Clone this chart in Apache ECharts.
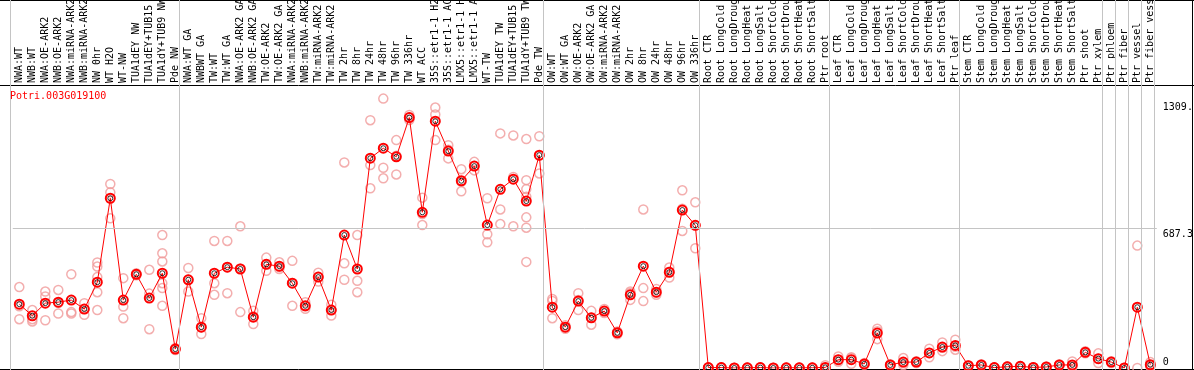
<!DOCTYPE html>
<html><head><meta charset="utf-8">
<script src="https://cdn.jsdelivr.net/npm/echarts@6/dist/echarts.min.js"></script>
<style>html,body{margin:0;padding:0;background:#fff}#c{width:1194px;height:370px}</style>
</head><body><div id="c"></div>
<script>
const title = 'Potri.003G019100';
const categories = [
  'NWA:WT','NWB:WT','NWA:OE-ARK2','NWB:OE-ARK2','NWA:miRNA-ARK2','NWB:miRNA-ARK2','NW 0hr','WT H2O','WT-NW','TUA1dEY NW','TUA1dEY+TUB15 NW','TUA1dY+TUB9 NW','Pde NW',
  'NWA:WT GA','NWBWT GA','TW:WT','TW:WT GA','NWA:OE-ARK2 GA','NWB:OE-ARK2 GA','TW:OE-ARK2','TW:OE-ARK2 GA','NWA:miRNA-ARK2 GA','NWB:miRNA-ARK2 GA','TW:miRNA-ARK2','TW:miRNA-ARK2 GA','TW 2hr','TW 8hr','TW 24hr','TW 48hr','TW 96hr','TW 336hr','WT ACC','35S::etr1-1 H2O','35S::etr1-1 ACC','LMX5::etr1-1 H2O','LMX5::etr1-1 ACC','WT-TW','TUA1dEY TW','TUA1dEY+TUB15 TW','TUA1dY+TUB9 TW','Pde TW',
  'OW:WT','OW:WT GA','OW:OE-ARK2','OW:OE-ARK2 GA','OW:miRNA-ARK2','OW:miRNA-ARK2 GA','OW 2hr','OW 8hr','OW 24hr','OW 48hr','OW 96hr','OW 336hr',
  'Root CTR','Root LongCold','Root LongDrought','Root LongHeat','Root LongSalt','Root ShortCold','Root ShortDrought','Root ShortHeat','Root ShortSalt','Ptr root',
  'Leaf CTR','Leaf LongCold','Leaf LongDrought','Leaf LongHeat','Leaf LongSalt','Leaf ShortCold','Leaf ShortDrought','Leaf ShortHeat','Leaf ShortSalt','Ptr leaf',
  'Stem CTR','Stem LongCold','Stem LongDrought','Stem LongHeat','Stem LongSalt','Stem ShortCold','Stem ShortDrought','Stem ShortHeat','Stem ShortSalt','Ptr shoot','Ptr xylem',
  'Ptr phloem','Ptr fiber','Ptr vessel','Ptr fiber vessel'
];
const groupSizes = [13, 28, 12, 10, 10, 11, 1, 1, 1, 1];
const means = [
  314,257,319,324,334,290,422,835,334,461,344,466,93,
  434,201,466,496,487,250,510,501,417,306,447,285,654,487,1032,1081,1039,1232,766,1214,1067,921,993,703,879,929,821,1047,
  299,201,329,247,280,173,360,501,373,471,777,702,
  2,2,0,1,2,0,1,1,1,3,
  41,41,20,172,15,29,29,74,103,111,
  11,15,2,6,8,3,5,15,15,77,46,
  29,0,299,16
];
const replicates = [
  [398,304,240],[285,240,229],[376,352,235],[384,320,268],[461,275,268],[319,290,262],[519,499,447,373,285],[905,864,736],[442,302,245],[466,461,456],[483,366,191],[654,564,524,417,393,306],[98,93,88],
  [492,434,376],[245,201,167],[625,417,360],[625,496,368],[697,489,275],[281,253,216],[543,510,478],[520,496,487],[527,418,306],[324,303,291],[469,447,425],[311,285,258],[1011,515,434],[654,429,373],[1219,998,884],[1325,985,933],[1121,1044,952],[1245,1232,1220],[838,757,703],[1281,1247,1121],[1096,1074,1031],[978,916,869],[1014,993,972],[835,658,618],[1154,780,708],[1144,940,697],[1126,924,880,842,741,690,522],[1140,1044,957],
  [340,330,245],[210,201,193],[368,334,285],[281,247,213],[290,280,270],[180,173,166],[376,369,335],[780,393,329],[389,370,360],[494,474,445],[874,783,674],[815,702,589],
  [3,2,1],[4,2,1],[1,0,0],[2,1,0],[3,2,1],[1,0,0],[2,1,0],[2,1,0],[2,1,0],[14,2,0],
  [57,41,31],[53,49,21],[24,20,16],[193,181,142],[18,15,12],[49,24,14],[33,29,25],[95,74,53],[126,100,83],[139,104,90],
  [14,11,8],[18,15,12],[3,2,1],[8,6,4],[10,8,6],[4,3,2],[7,5,3],[18,15,12],[32,8,5],[82,77,72],[72,45,24],
  [33,29,25],[1,0,0],[602,0],[29,12,7]
];
const yTicks = [0, 687.3, 1309.2];
const gridValues = [687.3];

const W = 1194, H = 370;
const PLOT_LEFT = 12.8, BAND = 13, PLOT_TOP = 85, PLOT_BOTTOM = 368;
const YMAX = 1392;
const LINE_SHIFT = -0.18;
const N = categories.length;
const XMIN = -0.5 - PLOT_LEFT / BAND;
const XMAX = XMIN + W / BAND;

const boundaries = [-0.5];
let acc = -0.5;
groupSizes.forEach(s => { acc += s; boundaries.push(acc); });

const repData = [];
replicates.forEach((r, i) => r.forEach(v => repData.push([i, v])));
const meanPts = means.map((v, i) => [i, v]);

const MONO = '"DejaVu Sans Mono", "Liberation Mono", monospace';
const chart = echarts.init(document.getElementById('c'), null, {renderer: 'canvas'});
chart.setOption({
  animation: false,
  backgroundColor: '#fff',
  title: {text: title, left: 10, top: 91, padding: 0,
    textStyle: {color: '#ff0000', fontSize: 10, fontFamily: MONO, fontWeight: 'normal'}},
  grid: [
    {left: PLOT_LEFT, top: PLOT_TOP, width: N * BAND, height: PLOT_BOTTOM - PLOT_TOP,
     containLabel: false, outerBoundsMode: 'none'},
    {left: 0, top: 0, width: W, height: H, containLabel: false, outerBoundsMode: 'none'}
  ],
  xAxis: [
    {type: 'category', gridIndex: 0, data: categories, position: 'top', boundaryGap: true,
     axisLine: {show: false}, axisTick: {show: false}, splitLine: {show: false},
     axisLabel: {interval: 0, rotate: 90, margin: 2, color: '#000', fontFamily: MONO, fontSize: 10,
       hideOverlap: false}},
    {type: 'value', gridIndex: 1, min: XMIN, max: XMAX, show: false}
  ],
  yAxis: [
    {type: 'value', gridIndex: 0, min: 0, max: YMAX, position: 'right',
     axisLine: {show: false}, axisTick: {show: false}, splitLine: {show: false},
     axisLabel: {customValues: yTicks, margin: 6, color: '#000', fontFamily: MONO, fontSize: 10,
       formatter: v => v === 0 ? '{lo|0}' : '{hi|' + String(v).slice(0, 5) + '}',
       rich: {
         hi: {padding: [12, 0, 0, 0], fontFamily: MONO, fontSize: 10, color: '#000'},
         lo: {padding: [0, 0, 12, 0], fontFamily: MONO, fontSize: 10, color: '#000'}
       }}},
    {type: 'value', gridIndex: 1, min: 0, max: 1, show: false}
  ],
  graphic: [
    {type: 'line', silent: true, shape: {x1: 0, y1: 0.5, x2: W, y2: 0.5}, style: {stroke: '#000', lineWidth: 1}},
    {type: 'line', silent: true, shape: {x1: 0, y1: 85.5, x2: W, y2: 85.5}, style: {stroke: '#000', lineWidth: 1}},
    {type: 'line', silent: true, shape: {x1: 0, y1: 369.5, x2: W, y2: 369.5}, style: {stroke: '#000', lineWidth: 1}},
    {type: 'line', silent: true, shape: {x1: W - 1.5, y1: 0, x2: W - 1.5, y2: H}, style: {stroke: '#000', lineWidth: 1}}
  ],
  series: [
    {type: 'line', xAxisIndex: 1, yAxisIndex: 1, data: [[XMIN, -1]], showSymbol: false, silent: true,
     lineStyle: {width: 0}, z: 0,
     markLine: {silent: true, symbol: 'none', animation: false, label: {show: false},
       lineStyle: {color: '#c4c4c4', type: 'solid', width: 1},
       data: boundaries.map(b => ({xAxis: b + LINE_SHIFT}))}},
    {type: 'scatter', xAxisIndex: 0, yAxisIndex: 0, data: repData, symbol: 'circle', symbolSize: 9, silent: true, z: 2,
     itemStyle: {color: 'rgba(0,0,0,0)', borderColor: '#f09a9a', borderWidth: 1.5},
     markLine: {silent: true, symbol: 'none', animation: false, label: {show: false},
       lineStyle: {color: '#c4c4c4', type: 'solid', width: 1},
       data: gridValues.map(v => ({yAxis: v}))}},
    {type: 'line', xAxisIndex: 0, yAxisIndex: 0, data: means, symbol: 'circle', symbolSize: 9, showAllSymbol: true, silent: true, z: 4,
     lineStyle: {color: '#ff0000', width: 1},
     itemStyle: {color: 'rgba(0,0,0,0)', borderColor: '#ff0000', borderWidth: 2}},
    {type: 'scatter', xAxisIndex: 0, yAxisIndex: 0, data: meanPts, symbol: 'circle', symbolSize: 5, silent: true, z: 5,
     itemStyle: {color: 'rgba(0,0,0,0)', borderColor: '#000', borderWidth: 1}}
  ]
});
</script></body></html>
